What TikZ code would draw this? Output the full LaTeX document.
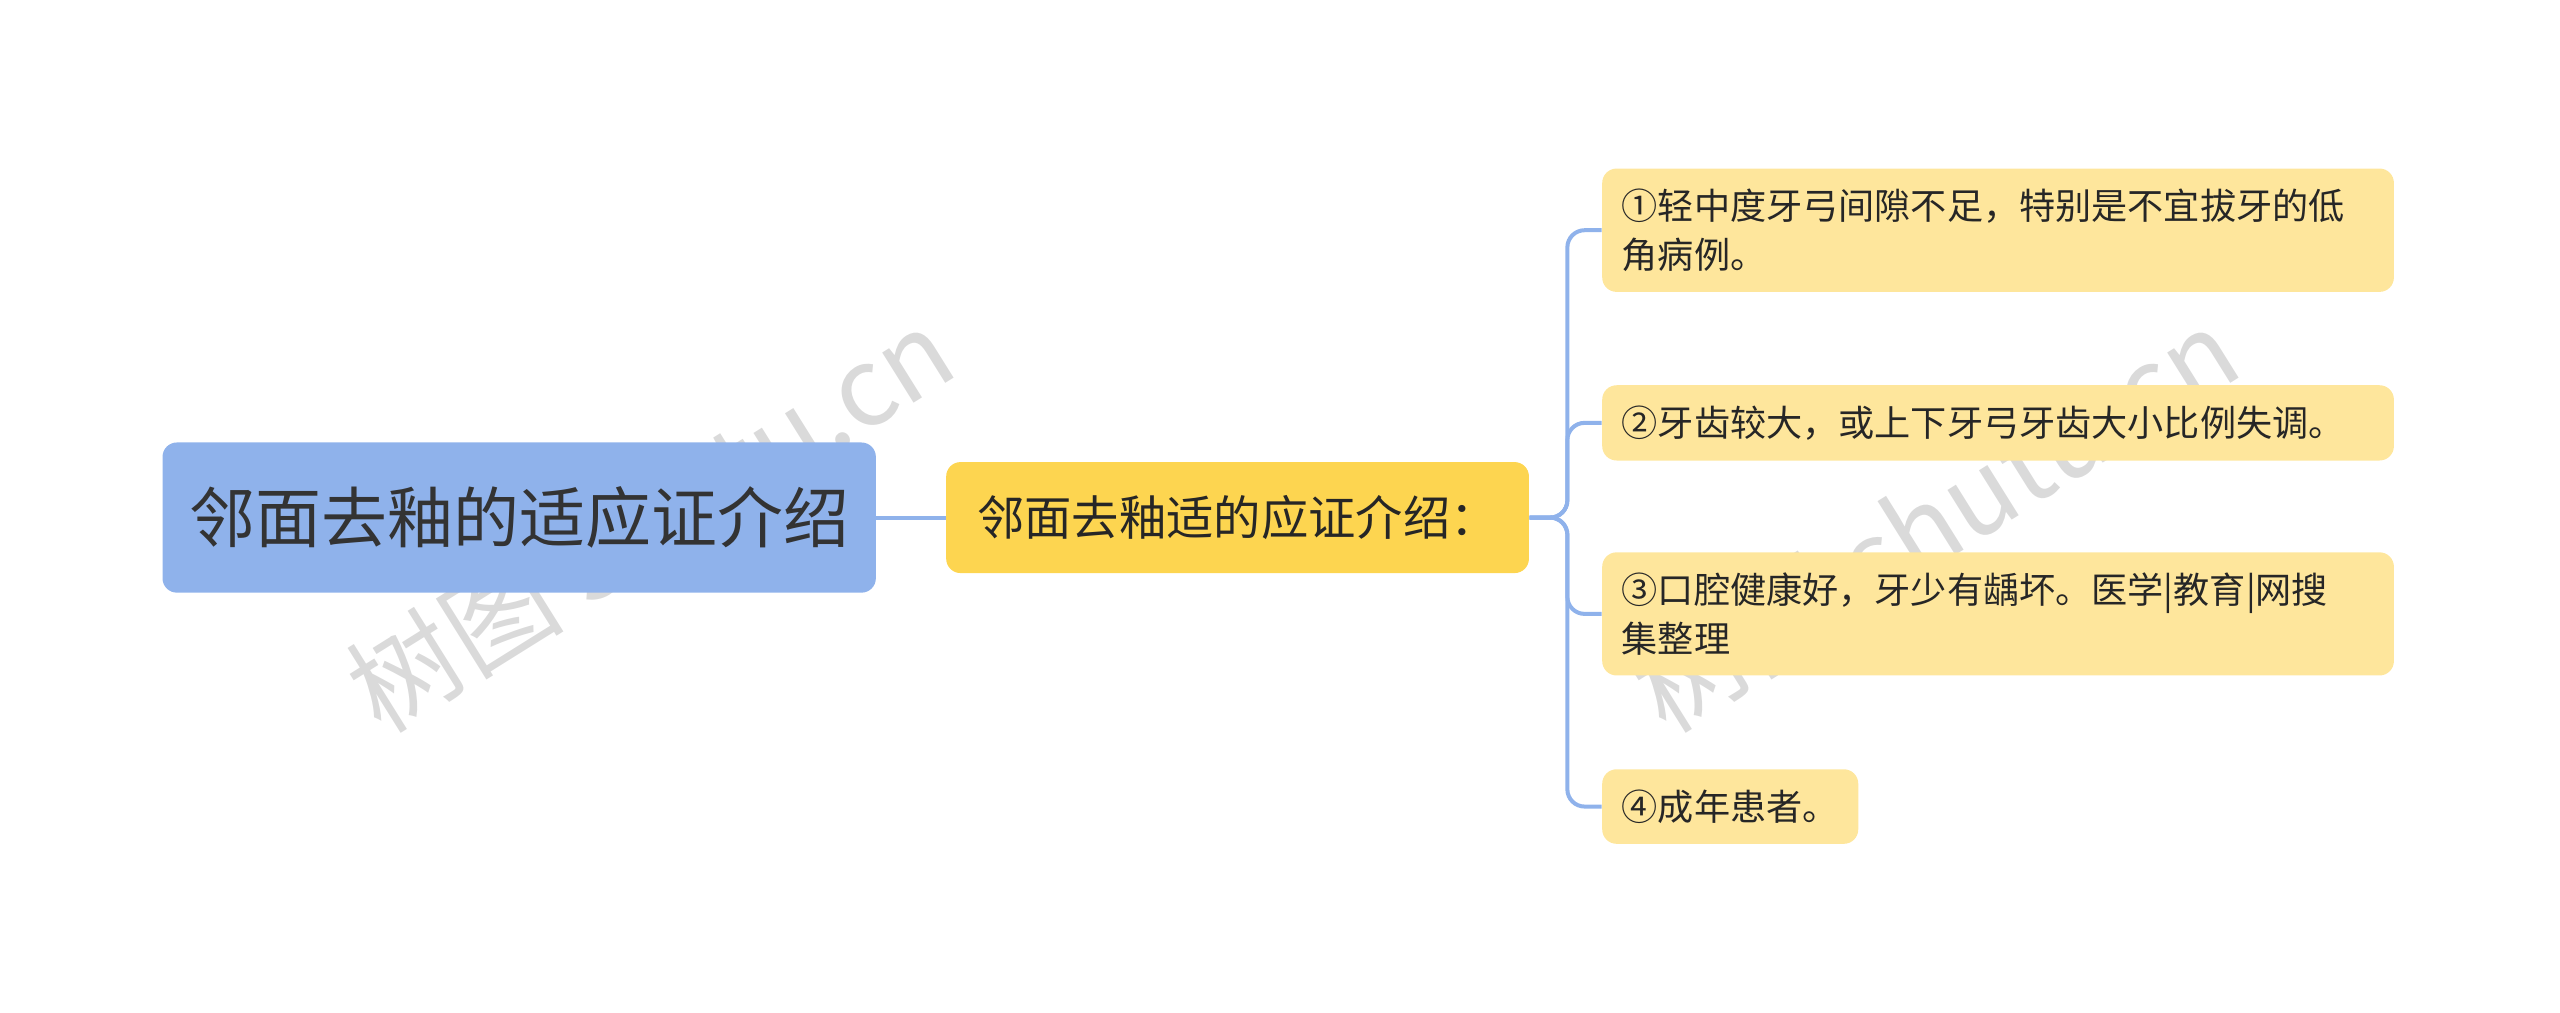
\documentclass[tikz,border=0pt]{standalone}
\usepackage{fontspec}
\setmainfont{Noto Sans CJK SC}
\usetikzlibrary{positioning}
\definecolor{rootblue}{HTML}{8FB2EB}
\definecolor{branchyel}{HTML}{FDD550}
\definecolor{leafyel}{HTML}{FEE69C}
\definecolor{wmgray}{HTML}{DADADA}
\begin{document}
\begin{tikzpicture}[x=0.02cm, y=-0.02cm,
    root/.style={fill=rootblue, rounded corners=5pt, minimum width=8.74cm, minimum height=1.84cm, font=\fontsize{23}{26}\selectfont, text=black!80},
    branch/.style={fill=branchyel, rounded corners=5pt, minimum width=7.14cm, minimum height=1.36cm, font=\fontsize{16.5}{19}\selectfont, text=black!85},
    leaf/.style={fill=leafyel, rounded corners=5pt, anchor=west, inner xsep=0.24cm, inner ysep=0.25cm, align=left, font=\fontsize{12.6}{17}\selectfont, text=black!85},
    link/.style={draw=rootblue, line width=1.4pt, rounded corners=6pt},
    wm/.style={text=wmgray, rotate=32, font=\fontsize{38}{40}\selectfont}]
  \useasboundingbox (0,0) rectangle (1568,620);
  \node[wm] (wm1) at (398,318) {树图 shutu.cn};
  \node[wm] (wm2) at (1185,318) {树图 shutu.cn};

  \node[root] (root) at (318,317) {邻面去釉的适应证介绍};
  \node[branch] (br) at (758,317) {邻面去釉适的应证介绍：};

  \node[leaf, text width=9.22cm] (l1) at (981,141) {①轻中度牙弓间隙不足，特别是不宜拔牙的低\\角病例。};
  \node[leaf, text width=9.22cm] (l2) at (981,259) {②牙齿较大，或上下牙弓牙齿大小比例失调。};
  \node[leaf, text width=9.22cm] (l3) at (981,376) {③口腔健康好，牙少有龋坏。医学|教育|网搜\\集整理};
  \node[leaf] (l4) at (981,494) {④成年患者。};

  \coordinate (jx) at (960,317);
  \draw[link] (root.east) -- (br.west);
  \foreach \n in {l1,l2,l3,l4}
    \draw[link] (br.east) -- (jx) |- (\n.west);
\end{tikzpicture}
\end{document}
